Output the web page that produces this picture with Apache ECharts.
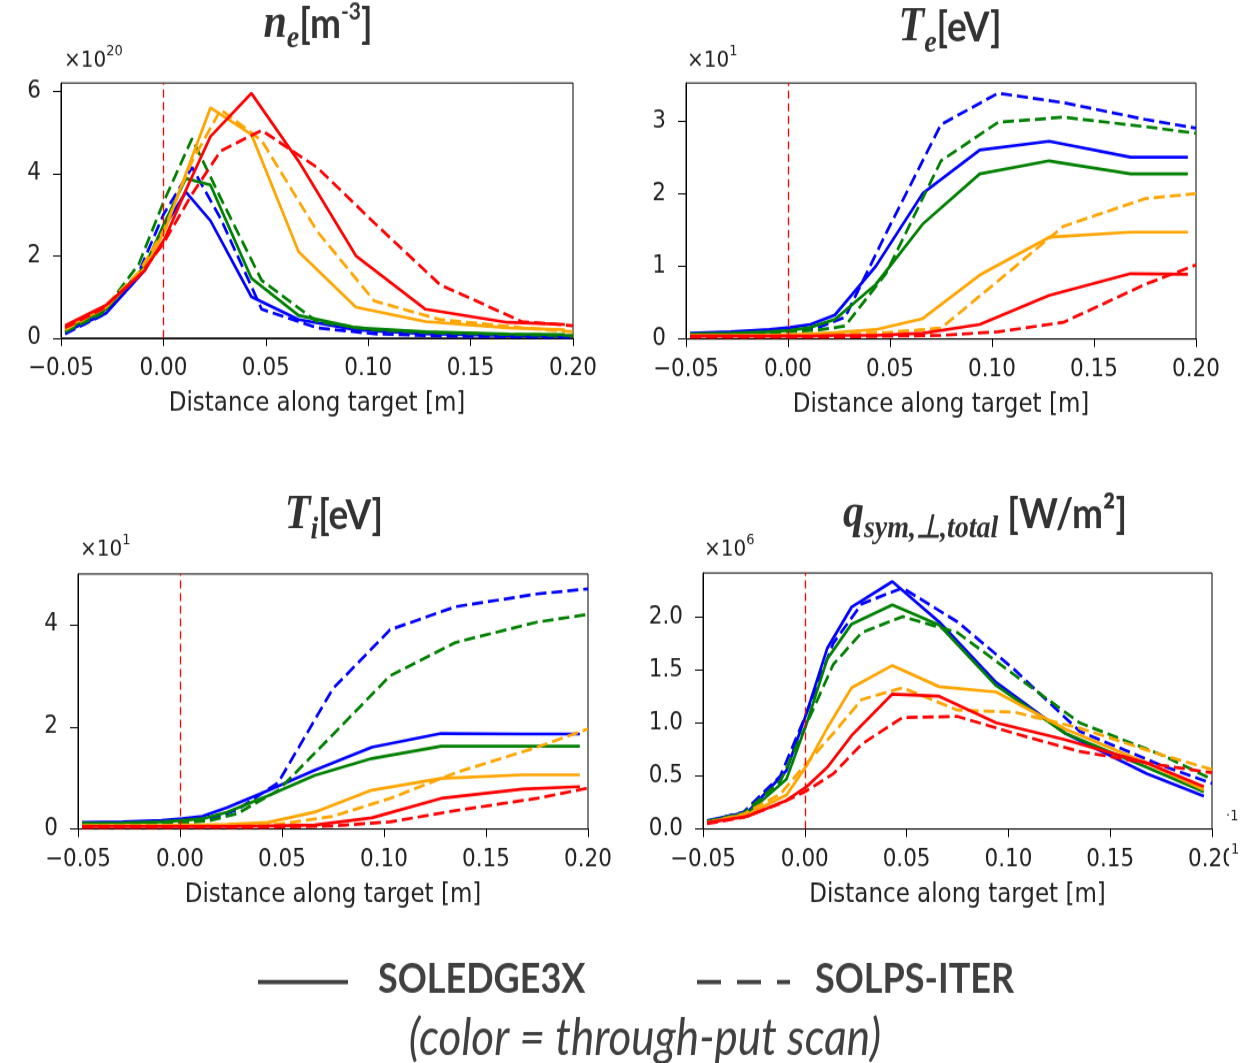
<!DOCTYPE html>
<html>
<head>
<meta charset="utf-8">
<script src="https://cdn.jsdelivr.net/npm/echarts@6/dist/echarts.min.js"></script>
<style>
  html, body { margin: 0; padding: 0; background: #fff; width: 1258px; height: 1063px; overflow: hidden; }
  #chart { width: 1258px; height: 924px; transform-origin: 0 0; }
</style>
</head>
<body>
<div id="chart"></div>
<script>
// Positions of the profile points along the target [m]
const xSoledge = [-0.048, -0.028, -0.009, 0.001, 0.011, 0.023, 0.043, 0.066, 0.094, 0.128, 0.168, 0.196];
const xSolps   = [-0.048, -0.030, -0.012, 0.000, 0.014, 0.028, 0.048, 0.075, 0.103, 0.135, 0.175, 0.200];

// Tick values
const ticksX  = [-0.05, 0, 0.05, 0.10, 0.15, 0.20];
const ticksNe = [0, 2, 4, 6];
const ticksTe = [0, 1, 2, 3];
const ticksTi = [0, 2, 4];
const ticksQ  = [0, 0.5, 1.0, 1.5, 2.0];

// Through-put scan cases, one row each: blue, green, orange, red
// n_e [1e20 m^-3]
const neSoledge = [
  [0.15, 0.60, 1.65, 2.75, 3.55, 2.85, 1.00, 0.45, 0.20, 0.10, 0.06, 0.05],
  [0.20, 0.70, 1.75, 2.85, 3.88, 3.72, 1.45, 0.55, 0.25, 0.15, 0.10, 0.08],
  [0.25, 0.75, 1.70, 2.65, 4.00, 5.60, 4.95, 2.10, 0.75, 0.40, 0.25, 0.20],
  [0.30, 0.80, 1.65, 2.45, 3.60, 4.90, 5.95, 4.30, 2.00, 0.70, 0.38, 0.33]
];
const neSolps = [
  [0.10, 0.55, 1.60, 3.00, 4.15, 2.90, 0.70, 0.25, 0.10, 0.05, 0.03, 0.02],
  [0.15, 0.60, 1.80, 3.30, 4.85, 3.40, 1.40, 0.40, 0.20, 0.12, 0.08, 0.06],
  [0.20, 0.70, 1.60, 2.60, 4.30, 5.55, 4.80, 2.60, 0.90, 0.45, 0.25, 0.15],
  [0.25, 0.70, 1.50, 2.30, 3.50, 4.55, 5.05, 4.15, 2.80, 1.30, 0.40, 0.30]
];
// T_e [10 eV]
const teSoledge = [
  [0.08, 0.10, 0.13, 0.16, 0.20, 0.33, 1.00, 2.00, 2.60, 2.72, 2.50, 2.50],
  [0.07, 0.08, 0.10, 0.12, 0.16, 0.27, 0.75, 1.58, 2.27, 2.45, 2.27, 2.27],
  [0.05, 0.05, 0.05, 0.06, 0.07, 0.09, 0.13, 0.28, 0.88, 1.40, 1.47, 1.47],
  [0.04, 0.04, 0.04, 0.04, 0.04, 0.05, 0.05, 0.08, 0.20, 0.60, 0.90, 0.89]
];
const teSolps = [
  [0.07, 0.08, 0.10, 0.12, 0.15, 0.30, 1.45, 2.95, 3.38, 3.25, 3.02, 2.90],
  [0.06, 0.07, 0.08, 0.10, 0.12, 0.18, 0.90, 2.45, 2.98, 3.05, 2.92, 2.83],
  [0.04, 0.04, 0.05, 0.05, 0.06, 0.07, 0.09, 0.15, 0.80, 1.55, 1.93, 2.00],
  [0.03, 0.03, 0.03, 0.03, 0.03, 0.03, 0.04, 0.05, 0.10, 0.23, 0.75, 1.02]
];
// T_i [10 eV]
const tiSoledge = [
  [0.13, 0.14, 0.17, 0.20, 0.25, 0.42, 0.75, 1.15, 1.60, 1.87, 1.86, 1.86],
  [0.11, 0.12, 0.14, 0.17, 0.20, 0.33, 0.65, 1.05, 1.38, 1.62, 1.62, 1.62],
  [0.07, 0.07, 0.07, 0.08, 0.08, 0.09, 0.13, 0.33, 0.76, 0.99, 1.06, 1.06],
  [0.05, 0.05, 0.05, 0.05, 0.05, 0.05, 0.06, 0.08, 0.22, 0.60, 0.78, 0.83]
];
const tiSolps = [
  [0.10, 0.10, 0.12, 0.14, 0.18, 0.38, 0.90, 2.75, 3.90, 4.35, 4.60, 4.70],
  [0.08, 0.08, 0.10, 0.12, 0.16, 0.30, 0.75, 1.85, 3.00, 3.65, 4.05, 4.20],
  [0.05, 0.05, 0.06, 0.06, 0.06, 0.07, 0.09, 0.25, 0.60, 1.10, 1.60, 1.96],
  [0.03, 0.03, 0.03, 0.03, 0.03, 0.03, 0.04, 0.06, 0.14, 0.36, 0.60, 0.80]
];
// q_sym,perp,total [1e6 W/m2]
const qSoledge = [
  [0.08, 0.16, 0.55, 1.10, 1.70, 2.09, 2.33, 1.95, 1.38, 0.90, 0.52, 0.31],
  [0.07, 0.15, 0.47, 1.00, 1.60, 1.93, 2.11, 1.92, 1.35, 0.90, 0.58, 0.35],
  [0.06, 0.14, 0.32, 0.60, 0.95, 1.33, 1.54, 1.34, 1.29, 0.94, 0.62, 0.37],
  [0.06, 0.12, 0.27, 0.40, 0.58, 0.88, 1.27, 1.25, 1.00, 0.84, 0.62, 0.40]
];
const qSolps = [
  [0.07, 0.16, 0.50, 1.05, 1.75, 2.12, 2.27, 1.95, 1.50, 0.92, 0.60, 0.43],
  [0.07, 0.15, 0.45, 0.95, 1.55, 1.85, 2.00, 1.85, 1.45, 1.00, 0.70, 0.47],
  [0.06, 0.14, 0.33, 0.60, 0.90, 1.22, 1.33, 1.12, 1.10, 0.95, 0.70, 0.56],
  [0.05, 0.11, 0.24, 0.35, 0.52, 0.80, 1.05, 1.06, 0.90, 0.73, 0.60, 0.53]
];

const caseColors = ['#0000ff', '#008000', '#ffa500', '#ff0000'];

// The figure is drawn on a shorter canvas and stretched vertically.
const H = 924;
const SY = 1063 / H;
const el = document.getElementById('chart');
el.style.transform = 'scaleY(' + SY + ')';
const Y = v => v / SY;

const TICK_FONT = 'DejaVu Sans';
const INK = '#222';

const panels = [
  { left: 61,  top: 83,  right: 573,  bottom: 338, ymax: 6.2,  ticks: ticksNe, dec: 0, sol: neSoledge, sps: neSolps },
  { left: 686, top: 83,  right: 1196, bottom: 339, ymax: 3.52, ticks: ticksTe, dec: 0, sol: teSoledge, sps: teSolps },
  { left: 78,  top: 574, right: 588,  bottom: 829, ymax: 4.99, ticks: ticksTi, dec: 0, sol: tiSoledge, sps: tiSolps },
  { left: 703, top: 573, right: 1212, bottom: 829, ymax: 2.41, ticks: ticksQ,  dec: 1, sol: qSoledge,  sps: qSolps }
];

const fmtX = v => (v < -1e-9 ? '\u2212' : '') + Math.abs(v).toFixed(2);

const grids = [], xAxes = [], yAxes = [], series = [];
panels.forEach((p, i) => {
  grids.push({
    left: p.left, top: Y(p.top), width: p.right - p.left, height: Y(p.bottom) - Y(p.top),
    show: true, borderColor: '#000', borderWidth: 1, backgroundColor: 'transparent'
  });
  xAxes.push({
    gridIndex: i, type: 'value', min: -0.05, max: 0.2, interval: 0.05,
    axisLine: { show: true, onZero: false, lineStyle: { color: '#000', width: 1 } },
    axisTick: { show: true, length: 7, customValues: ticksX, lineStyle: { color: '#000', width: 1 } },
    axisLabel: { customValues: ticksX, formatter: fmtX, color: INK, fontFamily: TICK_FONT, fontSize: 21.5, margin: 16 },
    splitLine: { show: false },
    name: 'Distance along target [m]', nameLocation: 'middle', nameGap: 46,
    nameTextStyle: { color: INK, fontFamily: TICK_FONT, fontSize: 23 }
  });
  yAxes.push({
    gridIndex: i, type: 'value', min: 0, max: p.ymax, interval: p.ticks[1] - p.ticks[0],
    axisLine: { show: true, onZero: false, lineStyle: { color: '#000', width: 1 } },
    axisTick: { show: true, length: 8, customValues: p.ticks, lineStyle: { color: '#000', width: 1 } },
    axisLabel: { customValues: p.ticks, formatter: v => v.toFixed(p.dec), color: INK, fontFamily: TICK_FONT, fontSize: 21.5, margin: 20 },
    splitLine: { show: false }
  });
  caseColors.forEach((c, k) => {
    series.push({
      type: 'line', xAxisIndex: i, yAxisIndex: i, symbol: 'none', animation: false, silent: true,
      data: xSoledge.map((x, j) => [x, p.sol[k][j]]),
      lineStyle: { color: c, width: 2.7, type: 'solid' }
    });
    series.push({
      type: 'line', xAxisIndex: i, yAxisIndex: i, symbol: 'none', animation: false, silent: true,
      data: xSolps.map((x, j) => [x, p.sps[k][j]]),
      lineStyle: { color: c, width: 2.7, type: [11, 5] }
    });
  });
  // separatrix strike point marker at x = 0
  series.push({
    type: 'line', xAxisIndex: i, yAxisIndex: i, data: [], symbol: 'none', animation: false, silent: true,
    markLine: {
      silent: true, symbol: 'none', animation: false, label: { show: false },
      lineStyle: { color: '#ff0000', width: 1.3, type: [7, 4] },
      data: [{ xAxis: 0 }]
    }
  });
});

const G = '#333';
const titleRich = {
  v: { fontFamily: 'Liberation Serif', fontStyle: 'italic', fontWeight: 'bold', fontSize: 42, fill: G, color: G },
  s: { fontFamily: 'Liberation Serif', fontStyle: 'italic', fontWeight: 'bold', fontSize: 28, fill: G, color: G, verticalAlign: 'bottom', lineHeight: 54 },
  u: { fontFamily: 'Lato', fontWeight: 'bold', fontSize: 37, fill: G, color: G },
  p: { fontFamily: 'Lato', fontWeight: 'bold', fontSize: 21, fill: G, color: G, verticalAlign: 'top', lineHeight: 54, padding: [6, 0, 0, 0] }
};
const title = (cx, cy, text) => ({
  type: 'text', x: cx, y: Y(cy), z: 100,
  style: { text, rich: titleRich, align: 'center', verticalAlign: 'middle', textAlign: 'center', textVerticalAlign: 'middle' }
});

const expRich = {
  a: { fontFamily: TICK_FONT, fontSize: 20, fill: INK, color: INK },
  b: { fontFamily: TICK_FONT, fontSize: 13, fill: INK, color: INK, verticalAlign: 'top', lineHeight: 30 }
};
const expText = (x, cy, e) => ({
  type: 'text', x, y: Y(cy), z: 100,
  style: { text: '{a|\u00d710}{b|' + e + '}', rich: expRich, align: 'left', verticalAlign: 'middle', textAlign: 'left', textVerticalAlign: 'middle' }
});

const LEG = '#404040';
const graphics = [
  title(318, 24, '{v|n}{s|e}{u|[m}{p|-3}{u|]}'),
  title(950, 28, '{v|T}{s|e}{u|[eV]}'),
  title(334, 515, '{v|T}{s|i}{u|[eV]}'),
  title(985, 514, '{v|q}{s|sym,\u22a5,total}{u| [W/m\u00b2]}'),
  expText(64, 61, '20'),
  expText(687, 61, '1'),
  expText(80, 550, '1'),
  expText(704, 550, '6'),
  // stray fragments along the right edge of the heat-flux panel
  { type: 'rect', z: 100, shape: { x: 1229, y: Y(840), width: 29, height: Y(32) }, style: { fill: '#fff' } },
  { type: 'text', z: 101, x: 1231, y: Y(850), style: { text: '1', font: '13px DejaVu Sans', fill: INK, align: 'left', verticalAlign: 'middle' } },
  { type: 'text', z: 101, x: 1226, y: Y(816), style: { text: '\u00b71', font: '13px DejaVu Sans', fill: INK, align: 'left', verticalAlign: 'middle' } },
  // model legend
  { type: 'line', z: 100, shape: { x1: 258, y1: Y(982), x2: 348, y2: Y(982) }, style: { stroke: LEG, lineWidth: 3.8 } },
  { type: 'text', z: 100, x: 378, y: Y(980), style: { text: 'SOLEDGE3X', font: 'bold 36px Lato', fill: LEG, align: 'left', verticalAlign: 'middle', textAlign: 'left', textVerticalAlign: 'middle' } },
  { type: 'line', z: 100, shape: { x1: 697, y1: Y(982), x2: 790, y2: Y(982) }, style: { stroke: LEG, lineWidth: 3.8, lineDash: [24, 16] } },
  { type: 'text', z: 100, x: 815, y: Y(980), style: { text: 'SOLPS-ITER', font: 'bold 36px Lato', fill: LEG, align: 'left', verticalAlign: 'middle', textAlign: 'left', textVerticalAlign: 'middle' } },
  { type: 'text', z: 100, x: 645, y: Y(1039), style: { text: '(color = through-put scan)', font: 'italic 44px Lato', fill: LEG, align: 'center', verticalAlign: 'middle', textAlign: 'center', textVerticalAlign: 'middle' } }
];

const chart = echarts.init(el, null, { renderer: 'canvas', width: 1258, height: H });
chart.setOption({
  backgroundColor: '#fff',
  animation: false,
  grid: grids,
  xAxis: xAxes,
  yAxis: yAxes,
  series,
  graphic: { elements: graphics }
});
</script>
</body>
</html>
